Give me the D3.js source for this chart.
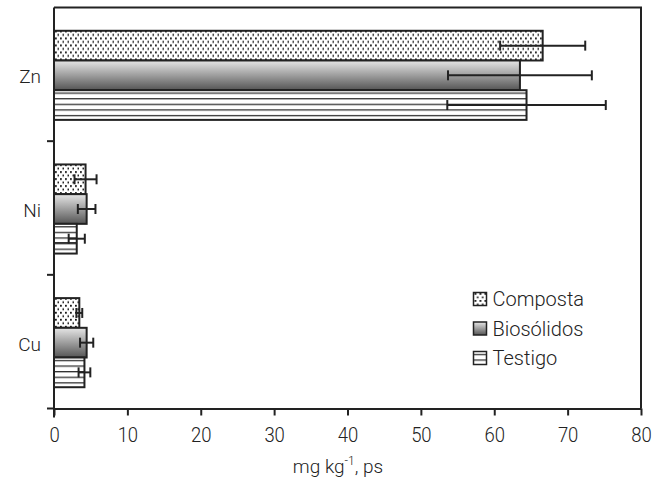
<!DOCTYPE html>
<html>
<head>
<meta charset="utf-8">
<script src="https://cdn.jsdelivr.net/npm/d3@7"></script>
<style>
  body { margin: 0; background: #fff; }
  text { font-family: Roboto, "Liberation Sans", sans-serif; font-weight: 300; fill: #222; }
</style>
</head>
<body>
<div id="chart"></div>
<script>
// data
const categories = ["Zn", "Ni", "Cu"];
const series = ["Composta", "Biosólidos", "Testigo"];
const composta = [66.6, 4.3, 3.45];
const compostaErr = [5.8, 1.5, 0.4];
const biosolidos = [63.5, 4.45, 4.45];
const biosolidosErr = [9.8, 1.2, 0.9];
const testigo = [64.4, 3.1, 4.15];
const testigoErr = [10.8, 1.1, 0.8];
const xTicks = [0, 10, 20, 30, 40, 50, 60, 70, 80];

const values = [composta, biosolidos, testigo];
const errors = [compostaErr, biosolidosErr, testigoErr];

const margin = { top: 7.5, right: 21, bottom: 82.5, left: 54 };
const width = 662 - margin.left - margin.right;
const height = 491 - margin.top - margin.bottom;

const svg = d3.select("#chart")
  .append("svg")
  .attr("width", 662)
  .attr("height", 491);

// fills: dots, gradient, horizontal lines
const defs = svg.append("defs");

const dots = defs.append("pattern")
  .attr("id", "dots")
  .attr("patternUnits", "userSpaceOnUse")
  .attr("width", 5)
  .attr("height", 7);
dots.append("rect").attr("width", 5).attr("height", 7).attr("fill", "#fff");
dots.append("rect").attr("x", 1).attr("y", 1).attr("width", 1.8).attr("height", 1.8).attr("fill", "#111");
dots.append("rect").attr("x", 3.5).attr("y", 4.5).attr("width", 1.8).attr("height", 1.8).attr("fill", "#111");

const grad = defs.append("linearGradient")
  .attr("id", "grey")
  .attr("x1", "0%").attr("x2", "0%")
  .attr("y1", "0%").attr("y2", "100%");
grad.append("stop").attr("offset", "0%").attr("stop-color", "#e6e6e6");
grad.append("stop").attr("offset", "100%").attr("stop-color", "#555");

const lines = defs.append("pattern")
  .attr("id", "lines")
  .attr("patternUnits", "userSpaceOnUse")
  .attr("width", 8)
  .attr("height", 5.6);
lines.append("rect").attr("width", 8).attr("height", 5.6).attr("fill", "#fff");
lines.append("rect").attr("y", 0).attr("width", 8).attr("height", 1.3).attr("fill", "#333");

const fills = ["url(#dots)", "url(#grey)", "url(#lines)"];

const g = svg.append("g")
  .attr("transform", `translate(${margin.left},${margin.top})`);

const x = d3.scaleLinear()
  .domain([0, 80])
  .range([0, width]);

const y = d3.scaleBand()
  .domain(categories)
  .range([0, height]);

const ySub = d3.scaleBand()
  .domain(series)
  .range([0, y.bandwidth()])
  .paddingOuter(0.75);

// frame (top and right)
g.append("path")
  .attr("d", `M0,0H${width}V${height}`)
  .attr("fill", "none")
  .attr("stroke", "#222")
  .attr("stroke-width", 2);

// bars
const groups = g.selectAll(".cat")
  .data(categories)
  .join("g")
  .attr("class", "cat")
  .attr("transform", d => `translate(0,${y(d) + 1})`);

series.forEach((s, si) => {
  groups.append("rect")
    .attr("x", 0)
    .attr("y", ySub(s))
    .attr("width", (d, i) => x(values[si][i]))
    .attr("height", ySub.bandwidth())
    .attr("fill", fills[si])
    .attr("stroke", "#222")
    .attr("stroke-width", 2);
});

// error bars
series.forEach((s, si) => {
  const eb = groups.append("g")
    .attr("transform", `translate(0,${ySub(s) + ySub.bandwidth() / 2})`);
  eb.append("line")
    .attr("x1", (d, i) => x(values[si][i] - errors[si][i]))
    .attr("x2", (d, i) => x(values[si][i] + errors[si][i]))
    .attr("stroke", "#222")
    .attr("stroke-width", 2);
  eb.append("line")
    .attr("x1", (d, i) => x(values[si][i] - errors[si][i]))
    .attr("x2", (d, i) => x(values[si][i] - errors[si][i]))
    .attr("y1", -5).attr("y2", 5)
    .attr("stroke", "#222")
    .attr("stroke-width", 2);
  eb.append("line")
    .attr("x1", (d, i) => x(values[si][i] + errors[si][i]))
    .attr("x2", (d, i) => x(values[si][i] + errors[si][i]))
    .attr("y1", -5).attr("y2", 5)
    .attr("stroke", "#222")
    .attr("stroke-width", 2);
});

// x axis
const xAxis = g.append("g")
  .attr("transform", `translate(0,${height})`)
  .call(d3.axisBottom(x).tickValues(xTicks).tickSize(7).tickSizeOuter(0).tickPadding(12));
xAxis.select(".domain").attr("stroke", "#222").attr("stroke-width", 2);
xAxis.selectAll(".tick line").attr("stroke", "#222").attr("stroke-width", 2);
xAxis.selectAll(".tick text")
  .style("font-size", "21px")
  .attr("transform", "scale(0.88,1)")
  .attr("fill", "#222");

// y axis: line, ticks between categories, labels
g.append("line")
  .attr("x1", 0).attr("x2", 0)
  .attr("y1", 0).attr("y2", height + 9)
  .attr("stroke", "#222")
  .attr("stroke-width", 2);

g.selectAll(".ytick")
  .data(categories.slice(1).concat([null]))
  .join("line")
  .attr("class", "ytick")
  .attr("x1", -7).attr("x2", 0)
  .attr("y1", d => d === null ? height : y(d))
  .attr("y2", d => d === null ? height : y(d))
  .attr("stroke", "#222")
  .attr("stroke-width", 2);

g.selectAll(".ylabel")
  .data(categories)
  .join("text")
  .attr("class", "ylabel")
  .attr("x", -13)
  .attr("y", d => y(d) + y.bandwidth() / 2)
  .attr("dy", "0.47em")
  .attr("text-anchor", "end")
  .style("font-size", "19px")
  .text(d => d);

// x axis title
const title = g.append("text")
  .attr("x", 284)
  .attr("y", 473 - margin.top)
  .attr("text-anchor", "middle")
  .style("font-size", "19px");
title.append("tspan").text("mg kg");
title.append("tspan").attr("dy", -8).style("font-size", "12px").text("-1");
title.append("tspan").attr("dy", 8).text(", ps");

// legend
const legend = g.append("g")
  .attr("transform", `translate(${473.5 - margin.left},${306 - margin.top})`);
series.forEach((s, si) => {
  const row = legend.append("g").attr("transform", `translate(0,${si * 29.5})`);
  row.append("rect")
    .attr("x", 0).attr("y", -13.5)
    .attr("width", 13).attr("height", 13)
    .attr("fill", fills[si])
    .attr("stroke", "#222")
    .attr("stroke-width", 1.5);
  row.append("text")
    .attr("x", 19)
    .attr("y", 0)
    .style("font-size", "20px")
    .text(s);
});
</script>
</body>
</html>
